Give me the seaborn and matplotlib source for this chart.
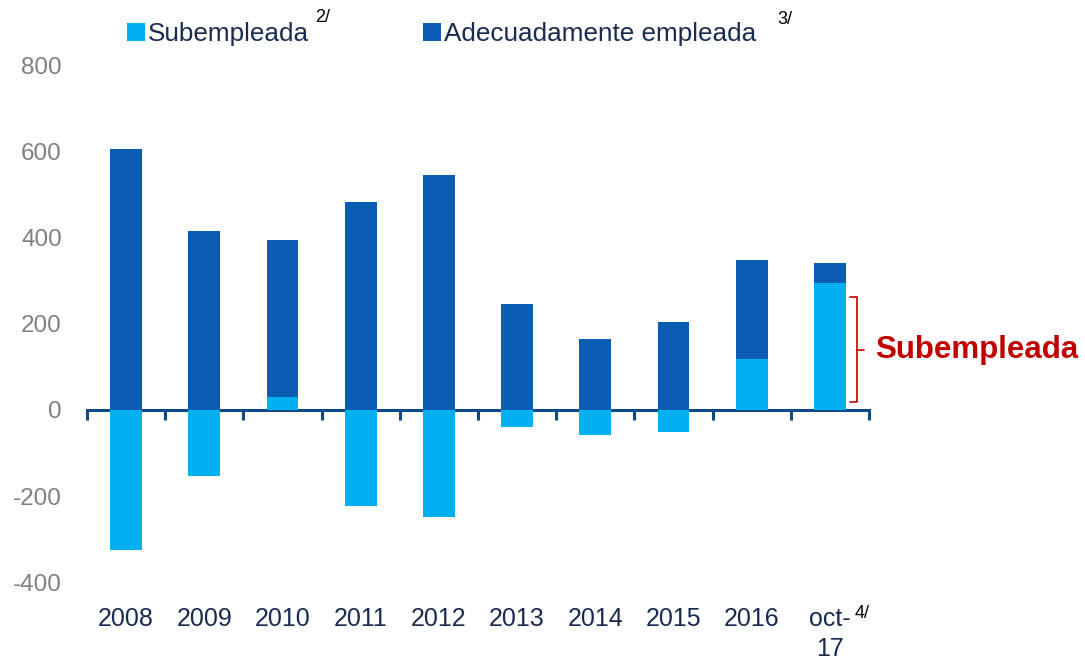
import numpy as np
import pandas as pd
import matplotlib
matplotlib.use("Agg")
import matplotlib.pyplot as plt
import seaborn as sns
from matplotlib.patches import Patch

periodos = ['2008', '2009', '2010', '2011', '2012', '2013', '2014', '2015', '2016', 'oct-\n17']
subempleada = [-325, -153, 30, -223, -248, -39, -58, -51, 118, 295]
adecuada = [606, 415, 364, 483, 545, 246, 165, 204, 230, 46]

COLOR_SUB = '#00B0F0'
COLOR_ADE = '#0B5DB4'
NAVY = '#1A2B4F'
AXIS_BLUE = '#0D4A85'
GRIS = '#808080'
ROJO = '#C00000'

sns.set_theme(style='white')
plt.rcParams['font.family'] = ['Liberation Sans', 'DejaVu Sans']
plt.rcParams['axes.unicode_minus'] = False

df = pd.DataFrame({'periodo': periodos, 'sub': subempleada, 'ade': adecuada})
df['base'] = df['sub'].clip(lower=0)

fig = plt.figure(figsize=(10.85, 6.6), dpi=100)
ax = fig.add_axes([87 / 1085, 1 - 582.4 / 660, (869 - 87) / 1085, (582.4 - 65.2) / 660])

sns.barplot(data=df, x='periodo', y='sub', color=COLOR_SUB, width=0.405,
            linewidth=0, saturation=1, ax=ax, zorder=2)
sns.barplot(data=df, x='periodo', y='ade', color=COLOR_ADE, width=0.405,
            linewidth=0, saturation=1, ax=ax, bottom=df['base'].to_numpy(), zorder=2)

ax.set_ylim(-400, 800)
ax.set_xlim(-0.5, len(periodos) - 0.5)
ax.set_yticks(range(-400, 801, 200))
ax.set_xlabel('')
ax.set_ylabel('')
for s in ax.spines.values():
    s.set_visible(False)
ax.tick_params(axis='y', length=0, pad=18, labelsize=17.5, labelcolor=GRIS)
ax.tick_params(axis='x', length=0, pad=18, labelsize=18, labelcolor=NAVY)
for lbl in ax.get_xticklabels():
    lbl.set_linespacing(1.3)

# linea del cero con marcas entre categorias
zero = ax.secondary_xaxis(400 / 1200)
zero.set_xticks(np.arange(-0.5, len(periodos), 1.0))
zero.set_xticklabels([])
zero.spines['bottom'].set_color(AXIS_BLUE)
zero.spines['bottom'].set_linewidth(2.2)
zero.tick_params(axis='x', length=7, width=2.2, color=AXIS_BLUE, direction='out')

# llave roja para la ultima barra
v = subempleada[-1]
xb = 9.35
ax.plot([xb - 0.09, xb, xb, xb - 0.09], [v * 0.89, v * 0.89, v * 0.06, v * 0.06],
        color=ROJO, lw=1.2, clip_on=False, zorder=3)
ax.plot([xb, xb + 0.09], [v * 0.47, v * 0.47], color=ROJO, lw=1.2, clip_on=False, zorder=3)
ax.text(9.58, v * 0.47, 'Subempleada', color=ROJO, fontsize=22.5, fontweight='bold',
        va='center', ha='left', clip_on=False)

# leyenda
handles = [Patch(facecolor=COLOR_SUB, edgecolor='none', label='Subempleada'),
           Patch(facecolor=COLOR_ADE, edgecolor='none', label='Adecuadamente empleada')]
leg = fig.legend(handles=handles, loc='center left', bbox_to_anchor=(127 / 1085, 1 - 34 / 660),
                 ncol=2, frameon=False, fontsize=18.8, handlelength=0.68, handleheight=0.68,
                 handletextpad=0.1, columnspacing=4.4, borderpad=0, borderaxespad=0)
for t in leg.get_texts():
    t.set_color(NAVY)

fig.text(315 / 1085, 1 - 18 / 660, '2/', fontsize=13, color='black', va='center', ha='left')
fig.text(777 / 1085, 1 - 20 / 660, '3/', fontsize=13, color='black', va='center', ha='left')
fig.text(855 / 1085, 1 - 613 / 660, '4/', fontsize=13, color='black', va='center', ha='left')

fig.savefig('out.png', dpi=100)
